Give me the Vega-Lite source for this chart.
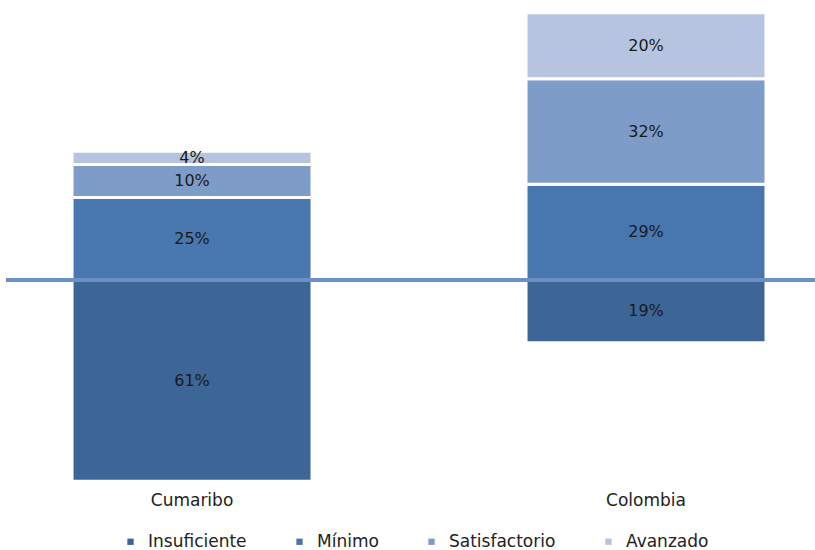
{
  "$schema": "https://vega.github.io/schema/vega-lite/v6.json",
  "autosize": {"type": "none"},
  "padding": {"left": 6, "top": 0, "right": 0, "bottom": 68},
  "width": 809,
  "height": 482,
  "background": "white",
  "config": {"view": {"stroke": null}, "font": "DejaVu Sans"},
  "data": {
    "values": [
      {"region": "Cumaribo", "level": "Insuficiente", "ord": 1, "value": -61},
      {"region": "Cumaribo", "level": "Mínimo", "ord": 2, "value": 25},
      {"region": "Cumaribo", "level": "Satisfactorio", "ord": 3, "value": 10},
      {"region": "Cumaribo", "level": "Avanzado", "ord": 4, "value": 4},
      {"region": "Colombia", "level": "Insuficiente", "ord": 1, "value": -19},
      {"region": "Colombia", "level": "Mínimo", "ord": 2, "value": 29},
      {"region": "Colombia", "level": "Satisfactorio", "ord": 3, "value": 32},
      {"region": "Colombia", "level": "Avanzado", "ord": 4, "value": 20}
    ]
  },
  "transform": [
    {"stack": "value", "groupby": ["region"], "sort": [{"field": "ord", "order": "ascending"}], "as": ["v0", "v1"]},
    {"calculate": "(datum.v0 + datum.v1) / 2", "as": "mid"},
    {"calculate": "format(abs(datum.value), 'd') + '%'", "as": "lbl"}
  ],
  "layer": [
    {
      "mark": {"type": "bar", "stroke": "white", "strokeWidth": 3},
      "encoding": {
        "x": {
          "field": "region", "type": "nominal", "sort": ["Cumaribo", "Colombia"],
          "scale": {"paddingInner": 0.4714, "paddingOuter": 0.1267, "align": 0.574},
          "axis": {"title": null, "ticks": false, "domain": false, "labelAngle": 0, "labelFontSize": 17, "labelColor": "#222222", "labelPadding": 10, "labelFont": "DejaVu Sans"}
        },
        "y": {"field": "v0", "type": "quantitative", "scale": {"domain": [-61.2, 84.85], "nice": false, "zero": false}, "axis": null},
        "y2": {"field": "v1"},
        "color": {
          "field": "level", "type": "nominal",
          "sort": ["Insuficiente", "Mínimo", "Satisfactorio", "Avanzado"],
          "scale": {"domain": ["Insuficiente", "Mínimo", "Satisfactorio", "Avanzado"], "range": ["#3d6696", "#4877b0", "#7e9cc8", "#b6c4e0"]},
          "legend": {
            "title": null, "orient": "none", "direction": "horizontal",
            "legendX": 116, "legendY": 533, "symbolType": "square", "symbolSize": 40,
            "symbolStrokeWidth": 0, "labelFontSize": 17, "labelColor": "#222222", "labelFont": "DejaVu Sans",
            "labelOffset": 9, "columnPadding": 44, "padding": 0
          }
        }
      }
    },
    {
      "mark": {"type": "rule", "color": "#6e91c5", "strokeWidth": 3.5},
      "encoding": {"y": {"datum": 0, "type": "quantitative"}}
    },
    {
      "mark": {"type": "text", "fontSize": 16, "color": "#1a1a1a", "font": "DejaVu Sans", "baseline": "middle"},
      "encoding": {
        "x": {"field": "region", "type": "nominal", "sort": ["Cumaribo", "Colombia"]},
        "y": {"field": "mid", "type": "quantitative"},
        "text": {"field": "lbl", "type": "nominal"}
      }
    }
  ]
}
